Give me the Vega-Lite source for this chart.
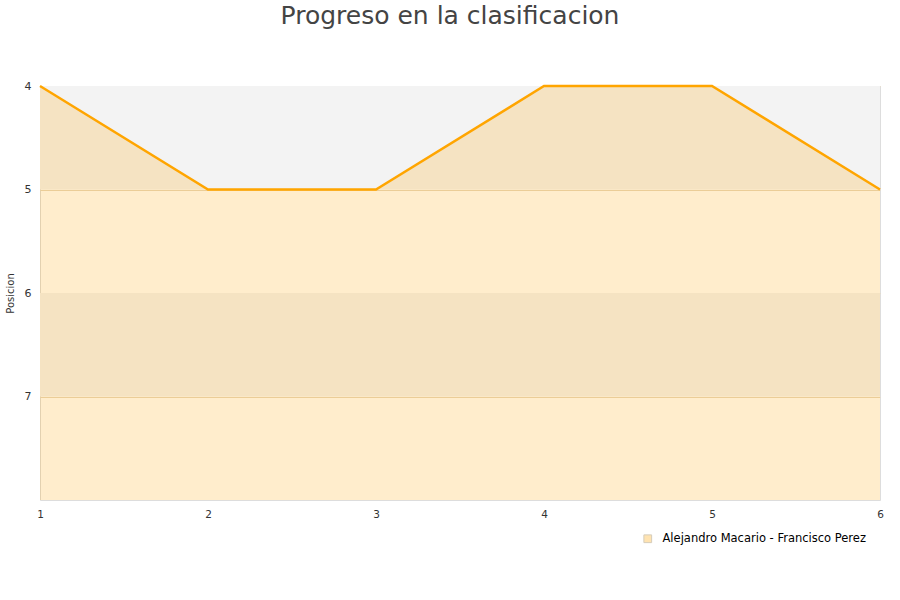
{
  "$schema": "https://vega.github.io/schema/vega-lite/v6.json",
  "width": 840,
  "height": 414,
  "autosize": "none",
  "padding": {"left": 40, "top": 86, "right": 20, "bottom": 100},
  "background": "white",
  "config": {
    "font": "DejaVu Sans",
    "view": {"stroke": "#dddddd", "strokeWidth": 1},
    "axis": {"labelFont": "DejaVu Sans", "labelColor": "#333333", "labelFontSize": 11, "ticks": false, "domain": false}
  },
  "title": {
    "text": "Progreso en la clasificacion",
    "fontSize": 25,
    "font": "DejaVu Sans",
    "fontWeight": "normal",
    "color": "#444444",
    "anchor": "middle",
    "dx": -10,
    "offset": 51
  },
  "datasets": {
    "bands": [{"y": 4, "y2": 5}, {"y": 6, "y2": 7}],
    "series": [
      {"jornada": 1, "posicion": 4, "pareja": "Alejandro Macario - Francisco Perez"},
      {"jornada": 2, "posicion": 5, "pareja": "Alejandro Macario - Francisco Perez"},
      {"jornada": 3, "posicion": 5, "pareja": "Alejandro Macario - Francisco Perez"},
      {"jornada": 4, "posicion": 4, "pareja": "Alejandro Macario - Francisco Perez"},
      {"jornada": 5, "posicion": 4, "pareja": "Alejandro Macario - Francisco Perez"},
      {"jornada": 6, "posicion": 5, "pareja": "Alejandro Macario - Francisco Perez"}
    ]
  },
  "layer": [
    {
      "data": {"name": "bands"},
      "mark": {"type": "rect", "color": "#f3f3f3"},
      "encoding": {
        "x": {"datum": 1, "type": "quantitative", "scale": {"domain": [1, 6], "nice": false, "zero": false}},
        "x2": {"datum": 6},
        "y": {"field": "y", "type": "quantitative", "scale": {"domain": [4, 8], "reverse": true, "nice": false, "zero": false}},
        "y2": {"field": "y2"}
      }
    },
    {
      "data": {"name": "series"},
      "mark": {"type": "area", "fillOpacity": 0.2},
      "encoding": {
        "x": {
          "field": "jornada", "type": "quantitative",
          "scale": {"domain": [1, 6], "nice": false, "zero": false},
          "axis": {"title": null, "values": [1, 2, 3, 4, 5, 6], "format": "d", "grid": false, "labelPadding": 9, "labelFontSize": 10.5, "labelFlush": false}
        },
        "y": {
          "field": "posicion", "type": "quantitative",
          "scale": {"domain": [4, 8], "reverse": true, "nice": false, "zero": false},
          "axis": {"title": "Posicion", "titleFontSize": 10, "titleFontWeight": "normal", "titleColor": "#333333", "titlePadding": 9, "values": [4, 5, 6, 7], "format": "d", "grid": true, "gridColor": "#e6d8bd", "labelPadding": 9}
        },
        "y2": {"datum": 8},
        "color": {
          "field": "pareja", "type": "nominal",
          "scale": {"range": ["#ffa500"]},
          "legend": {
            "title": null,
            "orient": "none",
            "legendX": 602,
            "legendY": 447,
            "symbolType": "square",
            "symbolSize": 60,
            "symbolOpacity": 0.3,
            "symbolStrokeColor": "#7a5a20",
            "symbolStrokeWidth": 1,
            "labelOffset": 9,
            "labelLimit": 400,
            "labelFontSize": 11.5,
            "labelColor": "#000000",
            "labelFont": "DejaVu Sans"
          }
        }
      }
    },
    {
      "data": {"name": "series"},
      "mark": {"type": "line", "color": "#ffa500", "strokeWidth": 2.5},
      "encoding": {
        "x": {"field": "jornada", "type": "quantitative"},
        "y": {"field": "posicion", "type": "quantitative"}
      }
    }
  ]
}
